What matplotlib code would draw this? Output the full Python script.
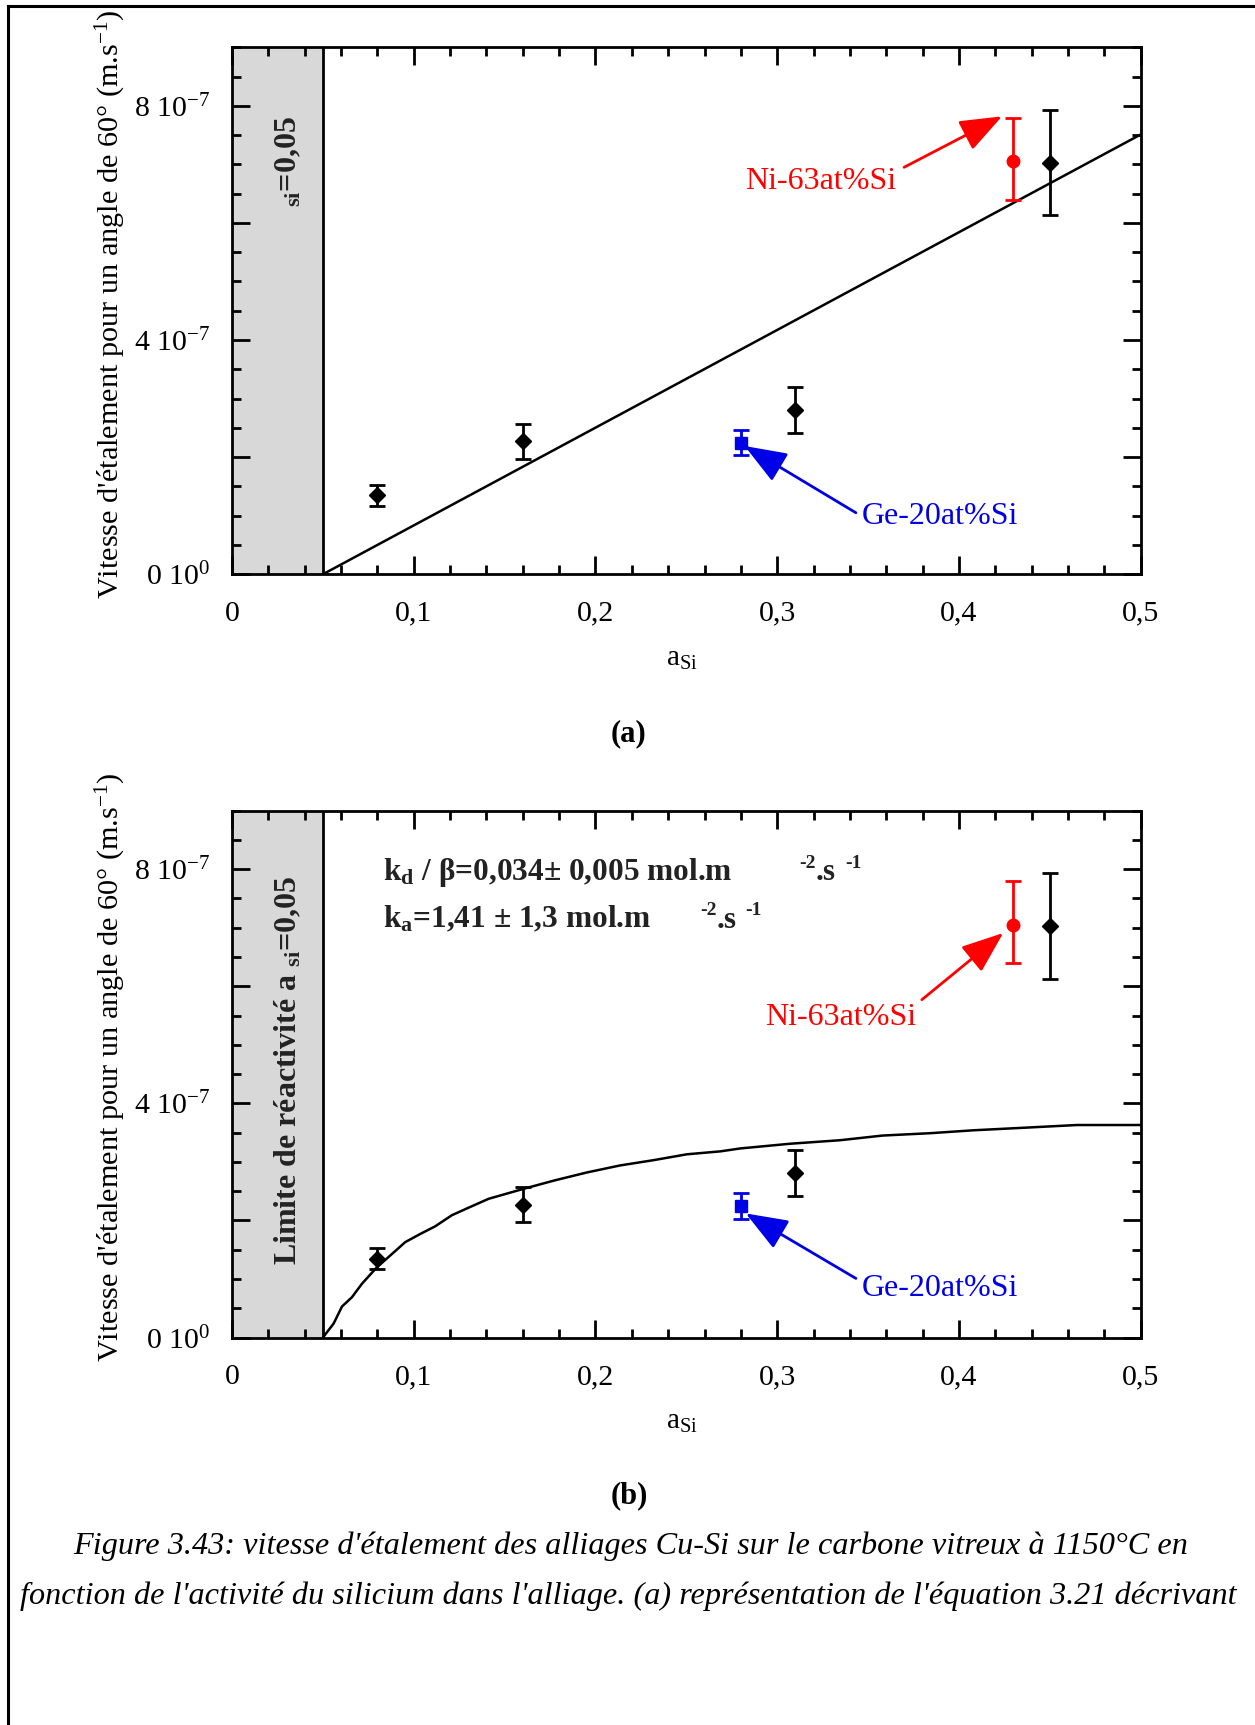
import matplotlib
matplotlib.use("Agg")
import matplotlib.pyplot as plt
from matplotlib.lines import Line2D
from matplotlib.ticker import MultipleLocator, FixedLocator, FixedFormatter

plt.rcParams['font.family'] = 'Liberation Serif'
plt.rcParams['mathtext.fontset'] = 'custom'
plt.rcParams['mathtext.rm'] = 'Liberation Serif'
plt.rcParams['mathtext.it'] = 'Liberation Serif:italic'
plt.rcParams['mathtext.bf'] = 'Liberation Serif:bold'
plt.rcParams['mathtext.default'] = 'regular'

# Cu-Si alloys (black diamonds)
a_cusi = [0.08, 0.16, 0.31, 0.45]
v_cusi = [1.35e-7, 2.27e-7, 2.81e-7, 7.03e-7]
err_cusi = [0.18e-7, 0.30e-7, 0.39e-7, 0.90e-7]

# Ni-63at%Si (red)
a_ni = [0.43]
v_ni = [7.05e-7]
err_ni_low = [0.66e-7]
err_ni_high = [0.75e-7]

# Ge-20at%Si (blue)
a_ge = [0.28]
v_ge = [2.25e-7]
err_ge = [0.22e-7]

# (a) linear model
fit_a_x = [0.05, 0.5]
fit_a_y = [0.0, 7.51e-7]

# (b) fitted model
fit_b_x = [0.05, 0.0559, 0.0605, 0.066, 0.0715, 0.0797, 0.087, 0.0953, 0.1036,
           0.1118, 0.121, 0.131, 0.1412, 0.1604, 0.177, 0.1953, 0.2136, 0.232,
           0.2503, 0.2687, 0.2797, 0.307, 0.3345, 0.358, 0.384, 0.408, 0.4336,
           0.465, 0.5]
fit_b_y = [0.0, 0.24e-7, 0.53e-7, 0.69e-7, 0.92e-7, 1.20e-7, 1.40e-7, 1.63e-7,
           1.77e-7, 1.90e-7, 2.09e-7, 2.23e-7, 2.37e-7, 2.54e-7, 2.68e-7,
           2.82e-7, 2.94e-7, 3.03e-7, 3.13e-7, 3.18e-7, 3.23e-7, 3.31e-7,
           3.37e-7, 3.45e-7, 3.49e-7, 3.54e-7, 3.58e-7, 3.63e-7, 3.63e-7]

xtick_vals = [0, 0.1, 0.2, 0.3, 0.4, 0.5]
xtick_labels = ["0", "0,1", "0,2", "0,3", "0,4", "0,5"]
ytick_vals = [0, 2e-7, 4e-7, 6e-7, 8e-7]
ytick_labels = ["0 10$^{0}$", "", "4 10$^{-7}$", "", "8 10$^{-7}$"]

W, H = 1255, 1725
fig = plt.figure(figsize=(W / 100, H / 100), dpi=100)

ylabel = "Vitesse d'étalement pour un angle de 60° (m.s$^{-1}$)"
RED = '#ff0000'
BLUE = '#0000e6'
DARK = '#222222'


def setup_axes(ax):
    ax.set_xlim(0, 0.5)
    ax.set_ylim(0, 9e-7)
    ax.axvspan(0, 0.05, facecolor='#d8d8d8', edgecolor='none', zorder=0)
    ax.axvline(0.05, color='black', lw=2, zorder=1)
    ax.xaxis.set_major_locator(FixedLocator(xtick_vals))
    ax.xaxis.set_major_formatter(FixedFormatter(xtick_labels))
    ax.xaxis.set_minor_locator(MultipleLocator(0.02))
    ax.yaxis.set_major_locator(FixedLocator(ytick_vals))
    ax.yaxis.set_major_formatter(FixedFormatter(ytick_labels))
    ax.yaxis.set_minor_locator(MultipleLocator(0.5e-7))
    ax.tick_params(which='both', direction='in', top=True, right=True,
                   width=2, color='black')
    ax.tick_params(which='major', length=13, labelsize=21.5)
    ax.tick_params(axis='x', which='major', pad=19)
    ax.tick_params(axis='y', which='major', pad=16)
    ax.tick_params(which='minor', length=6.5)
    for s in ax.spines.values():
        s.set_linewidth(2)
    ax.set_xlabel("a$_{Si}$", fontsize=21)
    ax.xaxis.set_label_coords(0.495, -0.16)
    ax.xaxis.label.set_va('center')
    ax.set_ylabel(ylabel, fontsize=21.8)
    ax.yaxis.set_label_coords(-0.133, 0.512)
    ax.yaxis.label.set_va('center')


def draw_points(ax):
    ax.errorbar(a_cusi, v_cusi, yerr=err_cusi, fmt='D', color='black',
                ms=8, elinewidth=2, capsize=5.5, capthick=2, zorder=3)
    ax.errorbar(a_ni, v_ni, yerr=[err_ni_low, err_ni_high], fmt='o', color=RED,
                ms=9, elinewidth=2, capsize=5.5, capthick=2, zorder=3)
    ax.errorbar(a_ge, v_ge, yerr=err_ge, fmt='s', color=BLUE,
                ms=9, elinewidth=2, capsize=5.5, capthick=2, zorder=3)


def arrow(ax, tail, tip, color):
    ax.annotate("", xy=tip, xytext=tail,
                arrowprops=dict(arrowstyle='-|>,head_length=1.3,head_width=0.5',
                                mutation_scale=20, color=color, lw=2,
                                shrinkA=0, shrinkB=0))


def units(ax, x, y):
    # "-2.s -1" written with small raised exponents, as in the original
    ax.annotate("-2", (x, y), xytext=(0, 9), textcoords='offset points',
                fontsize=14, fontweight='bold', color=DARK, va='baseline')
    ax.annotate(".s", (x, y), xytext=(12, 0), textcoords='offset points',
                fontsize=22.5, fontweight='bold', color=DARK, va='baseline')
    ax.annotate("-1", (x, y), xytext=(33, 9), textcoords='offset points',
                fontsize=14, fontweight='bold', color=DARK, va='baseline')


# ---- panel (a)
ax1 = fig.add_axes([0.1849, 0.6671, 0.724, 0.3055])
setup_axes(ax1)
ax1.plot(fit_a_x, fit_a_y, color='black', lw=1.8, zorder=2)
draw_points(ax1)
arrow(ax1, (0.3698, 6.95e-7), (0.4237, 7.82e-7), RED)
arrow(ax1, (0.3433, 1.05e-7), (0.2821, 2.19e-7), BLUE)
ax1.text(0.2823, 6.71e-7, "Ni-63at%Si", color=RED, fontsize=23,
         ha='left', va='center')
ax1.text(0.3467, 0.99e-7, "Ge-20at%Si", color=BLUE, fontsize=23,
         ha='left', va='center')
ax1.text(0.031, 7.05e-7, "$_{si}$=0,05", rotation=90, fontsize=23,
         fontweight='bold', ha='center', va='center', color=DARK)

# ---- panel (b)
ax2 = fig.add_axes([0.1849, 0.2246, 0.724, 0.3055])
setup_axes(ax2)
ax2.plot(fit_b_x, fit_b_y, color='black', lw=1.8, zorder=2)
draw_points(ax2)
arrow(ax2, (0.3796, 5.77e-7), (0.4244, 6.91e-7), RED)
arrow(ax2, (0.3433, 1.01e-7), (0.2827, 2.12e-7), BLUE)
ax2.text(0.2933, 5.47e-7, "Ni-63at%Si", color=RED, fontsize=23,
         ha='left', va='center')
ax2.text(0.3467, 0.84e-7, "Ge-20at%Si", color=BLUE, fontsize=23,
         ha='left', va='center')
ax2.text(0.031, 4.56e-7, "Limite de réactivité a $_{si}$=0,05", rotation=90,
         fontsize=23, fontweight='bold', ha='center', va='center', color=DARK)
ax2.text(0.0828, 7.81e-7, "k$_{d}$ / β=0,034± 0,005 mol.m", fontsize=22.6,
         fontweight='bold', color=DARK, va='baseline', ha='left')
units(ax2, 0.312, 7.81e-7)
ax2.text(0.0828, 7.0e-7, "k$_{a}$=1,41 ± 1,3 mol.m", fontsize=22.6,
         fontweight='bold', color=DARK, va='baseline', ha='left')
units(ax2, 0.2574, 7.0e-7)

# panel letters and caption
fig.text(629 / W, 1 - 734 / H, "(a)", fontsize=22, fontweight='bold',
         ha='center', va='center')
fig.text(629 / W, 1 - 1496 / H, "(b)", fontsize=22, fontweight='bold',
         ha='center', va='center')
fig.text(631 / W, 1 - 1546 / H,
         "Figure 3.43: vitesse d'étalement des alliages Cu-Si sur le carbone vitreux à 1150°C en",
         fontsize=23.2, style='italic', ha='center', va='center')
fig.text(628 / W, 1 - 1596 / H,
         "fonction de l'activité du silicium dans l'alliage. (a) représentation de l'équation 3.21 décrivant",
         fontsize=23.2, style='italic', ha='center', va='center')

# page frame
fig.add_artist(Line2D([8 / W, 1.0], [1 - 5.5 / H, 1 - 5.5 / H],
                      transform=fig.transFigure, color='black', lw=2.2))
fig.add_artist(Line2D([8 / W, 8 / W], [0.0, 1 - 5.5 / H],
                      transform=fig.transFigure, color='black', lw=2.2))

fig.savefig("out.png", dpi=100, facecolor='white')
